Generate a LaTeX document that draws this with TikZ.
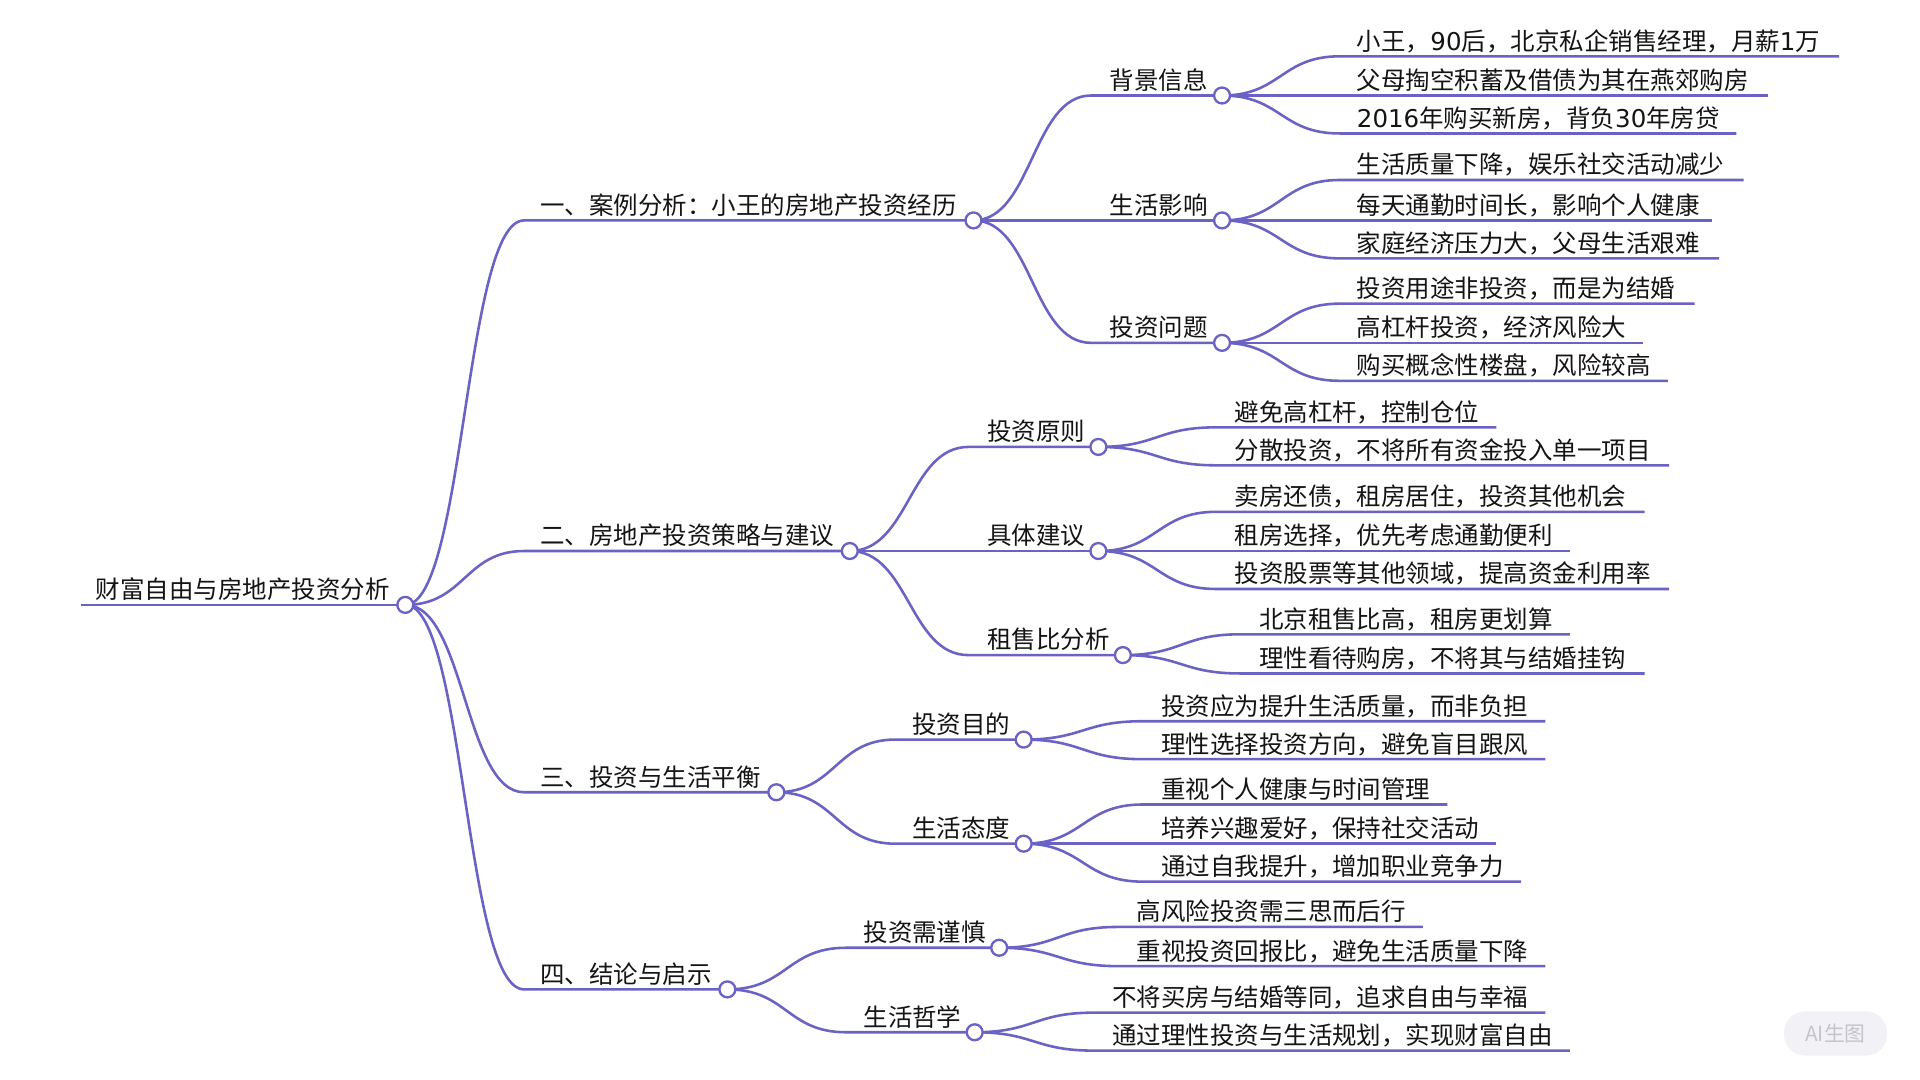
\documentclass[tikz,border=0pt]{standalone}
\usepackage{fontspec}
\setmainfont{Noto Sans CJK SC}
\newfontfamily\dv{DejaVu Sans}
\usetikzlibrary{calc,backgrounds}
\definecolor{lc}{RGB}{106,98,196}
\definecolor{tc}{RGB}{20,20,20}
\definecolor{wmbg}{RGB}{242,242,246}
\definecolor{wmtx}{RGB}{196,196,202}
\tikzset{
  conn/.style={draw=lc, line width=2.1pt},
  dot/.style={circle, draw=lc, fill=white, line width=1.9pt, minimum size=13pt, inner sep=0pt},
  lbl/.style={anchor=base west, inner sep=0pt, text=tc, font=\fontsize{20}{24}\selectfont},
}
% #1 name, #2 line start x, #3 text x, #4 circle x, #5 y, #6 text
\newcommand\mnode[6]{%
  \coordinate (#1s) at (#2,#5);
  \node[dot] (#1) at (#4,#5) {};
  \node[lbl] (#1t) at (#3,#5-5) {#6};
}
% leaf: #4 line end x
\newcommand\lnode[6]{%
  \coordinate (#1s) at (#2,#5);
  \coordinate (#1) at (#4,#5);
  \node[lbl] (#1t) at (#3,#5-5) {#6};
}
\newcommand\mylink[2]{%
  \draw[conn] let \p1=(#1.center), \p2=(#2s) in
    (#1.center) .. controls ({(\x1+\x2)/2},\y1) and ({(\x1+\x2)/2},\y2) .. (#2s) -- (#2.center);
}
\begin{document}
\begin{tikzpicture}[x=1pt,y=-1pt]
\useasboundingbox (0,0) rectangle (1568,882);

% root
\mnode{r}{66}{78}{331}{494}{财富自由与房地产投资分析}
% level 1
\mnode{a}{428}{441}{795}{180}{一、案例分析：小王的房地产投资经历}
\mnode{b}{428}{441}{694}{450}{二、房地产投资策略与建议}
\mnode{c}{428}{441}{634}{647}{三、投资与生活平衡}
\mnode{d}{428}{441}{594}{808}{四、结论与启示}
% level 2
\mnode{aa}{891}{906}{998}{78}{背景信息}
\mnode{ab}{891}{906}{998}{180}{生活影响}
\mnode{ac}{891}{906}{998}{280}{投资问题}
\mnode{ba}{791}{806}{897}{365}{投资原则}
\mnode{bb}{791}{806}{897}{450}{具体建议}
\mnode{bc}{791}{806}{917}{535}{租售比分析}
\mnode{ca}{731}{745}{836}{604}{投资目的}
\mnode{cb}{731}{745}{836}{689}{生活态度}
\mnode{da}{691}{705}{816}{774}{投资需谨慎}
\mnode{db}{691}{705}{796}{843}{生活哲学}
% leaves
\lnode{aa1}{1094}{1108}{1502}{46}{小王，{\dv 90}后，北京私企销售经理，月薪{\dv 1}万}
\lnode{aa2}{1094}{1108}{1444}{78}{父母掏空积蓄及借债为其在燕郊购房}
\lnode{aa3}{1094}{1108}{1418}{109}{{\dv 2016}年购买新房，背负{\dv 30}年房贷}
\lnode{ab1}{1094}{1108}{1424}{147}{生活质量下降，娱乐社交活动减少}
\lnode{ab2}{1094}{1108}{1398}{180}{每天通勤时间长，影响个人健康}
\lnode{ab3}{1094}{1108}{1404}{211}{家庭经济压力大，父母生活艰难}
\lnode{ac1}{1094}{1108}{1384}{248}{投资用途非投资，而是为结婚}
\lnode{ac2}{1094}{1108}{1342}{280}{高杠杆投资，经济风险大}
\lnode{ac3}{1094}{1108}{1362}{311}{购买概念性楼盘，风险较高}
\lnode{ba1}{993}{1008}{1222}{349}{避免高杠杆，控制仓位}
\lnode{ba2}{993}{1008}{1363}{380}{分散投资，不将所有资金投入单一项目}
\lnode{bb1}{993}{1008}{1343}{418}{卖房还债，租房居住，投资其他机会}
\lnode{bb2}{993}{1008}{1282}{450}{租房选择，优先考虑通勤便利}
\lnode{bb3}{993}{1008}{1363}{481}{投资股票等其他领域，提高资金利用率}
\lnode{bc1}{1013}{1028}{1282}{518}{北京租售比高，租房更划算}
\lnode{bc2}{1013}{1028}{1343}{550}{理性看待购房，不将其与结婚挂钩}
\lnode{ca1}{933}{948}{1262}{589}{投资应为提升生活质量，而非负担}
\lnode{ca2}{933}{948}{1262}{620}{理性选择投资方向，避免盲目跟风}
\lnode{cb1}{933}{948}{1182}{657}{重视个人健康与时间管理}
\lnode{cb2}{933}{948}{1222}{689}{培养兴趣爱好，保持社交活动}
\lnode{cb3}{933}{948}{1242}{720}{通过自我提升，增加职业竞争力}
\lnode{da1}{913}{928}{1162}{757}{高风险投资需三思而后行}
\lnode{da2}{913}{928}{1262}{789}{重视投资回报比，避免生活质量下降}
\lnode{db1}{893}{908}{1262}{827}{不将买房与结婚等同，追求自由与幸福}
\lnode{db2}{893}{908}{1282}{858}{通过理性投资与生活规划，实现财富自由}

\begin{pgfonlayer}{background}
\fill[white] (0,0) rectangle (1568,882);
\draw[conn] (rs) -- (r.center);
\mylink{r}{a}\mylink{r}{b}\mylink{r}{c}\mylink{r}{d}
\mylink{a}{aa}\mylink{a}{ab}\mylink{a}{ac}
\mylink{b}{ba}\mylink{b}{bb}\mylink{b}{bc}
\mylink{c}{ca}\mylink{c}{cb}
\mylink{d}{da}\mylink{d}{db}
\mylink{aa}{aa1}\mylink{aa}{aa2}\mylink{aa}{aa3}
\mylink{ab}{ab1}\mylink{ab}{ab2}\mylink{ab}{ab3}
\mylink{ac}{ac1}\mylink{ac}{ac2}\mylink{ac}{ac3}
\mylink{ba}{ba1}\mylink{ba}{ba2}
\mylink{bb}{bb1}\mylink{bb}{bb2}\mylink{bb}{bb3}
\mylink{bc}{bc1}\mylink{bc}{bc2}
\mylink{ca}{ca1}\mylink{ca}{ca2}
\mylink{cb}{cb1}\mylink{cb}{cb2}\mylink{cb}{cb3}
\mylink{da}{da1}\mylink{da}{da2}
\mylink{db}{db1}\mylink{db}{db2}
\end{pgfonlayer}

% watermark
\node[fill=wmbg, rounded corners=17pt, minimum width=84pt, minimum height=36pt, inner sep=0pt,
      text=wmtx, font=\fontsize{17}{17}\selectfont] (wm) at (1499,844) {AI生图};
\end{tikzpicture}
\end{document}
